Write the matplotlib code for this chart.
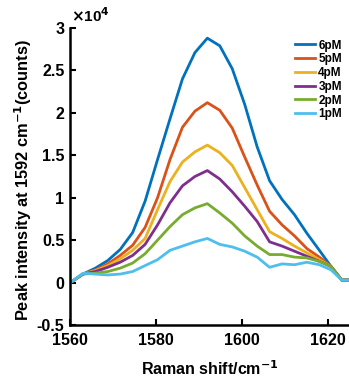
import matplotlib
matplotlib.use("Agg")
import matplotlib.pyplot as plt

plt.rcParams['font.family'] = ['Liberation Sans', 'DejaVu Sans']
plt.rcParams['font.weight'] = 'bold'
plt.rcParams['mathtext.default'] = 'bf'

raman_shift = [1560.1, 1563.0, 1565.9, 1568.8, 1571.7, 1574.6, 1577.5, 1580.4,
               1583.3, 1586.2, 1589.1, 1592.0, 1594.9, 1597.8, 1600.7, 1603.6,
               1606.5, 1609.4, 1612.3, 1615.2, 1618.1, 1620.8, 1623.3, 1624.8]

labels = ['6pM', '5pM', '4pM', '3pM', '2pM', '1pM']

# peak intensity in counts
i_6pM = [0, 1000, 1700, 2600, 3900, 5900, 9600, 14500, 19300, 24000, 27100, 28800,
         27900, 25200, 21000, 16000, 12000, 9800, 8000, 5800, 3800, 1900, 300, 300]
i_5pM = [0, 1000, 1500, 2200, 3200, 4400, 6500, 10000, 14500, 18300, 20200, 21200,
         20300, 18200, 14800, 11500, 8400, 6800, 5500, 4000, 3000, 1900, 300, 300]
i_4pM = [0, 1000, 1400, 2000, 2800, 3800, 5200, 8600, 11900, 14200, 15400, 16200,
         15300, 13800, 11200, 8600, 6000, 5200, 4300, 3500, 2700, 1900, 300, 300]
i_3pM = [0, 1000, 1300, 1800, 2400, 3200, 4500, 6800, 9400, 11400, 12500, 13200,
         12200, 10700, 9000, 7200, 4800, 4300, 3700, 3100, 2500, 1900, 300, 300]
i_2pM = [0, 1000, 1100, 1300, 1700, 2300, 3400, 5000, 6600, 8000, 8800, 9300,
         8200, 7000, 5500, 4300, 3300, 3300, 3000, 2900, 2500, 1900, 300, 300]
i_1pM = [0, 1100, 1000, 900, 1000, 1300, 2000, 2700, 3800, 4300, 4800, 5200,
         4500, 4200, 3700, 3000, 1800, 2200, 2100, 2400, 2100, 1500, 300, 300]

series = [i_6pM, i_5pM, i_4pM, i_3pM, i_2pM, i_1pM]
colors = ['#0072BD', '#D95319', '#EDB120', '#7E2F8E', '#77AC30', '#4DBEEE']

fig = plt.figure(figsize=(3.49, 3.81), dpi=100)
ax = fig.add_axes([70/349, 1-325/381, 279/349, (325-28)/381])

for lab, vals, c in zip(labels, series, colors):
    ax.plot(raman_shift, [v / 1e4 for v in vals], color=c, lw=2.0, label=lab)

ax.set_xlim(1560, 1625)
ax.set_ylim(-0.5, 3)
ax.set_xticks([1560, 1580, 1600, 1620])
ax.set_yticks([-0.5, 0, 0.5, 1, 1.5, 2, 2.5, 3])
ax.set_yticklabels(['-0.5', '0', '0.5', '1', '1.5', '2', '2.5', '3'])
ax.tick_params(direction='in', length=4, width=1.5, labelsize=11.5)
ax.tick_params(axis='x', pad=6)
ax.tick_params(axis='y', pad=4)
for s in ['top', 'right']:
    ax.spines[s].set_visible(False)
for s in ['left', 'bottom']:
    ax.spines[s].set_linewidth(1.8)

ax.set_xlabel('Raman shift/cm$^{-1}$', fontsize=11.5, fontweight='bold', labelpad=8)
ax.set_ylabel('Peak intensity at 1592 cm$^{-1}$(counts)', fontsize=11.8,
              fontweight='bold')
ax.yaxis.set_label_coords(-0.13, 0.49)
ax.text(0.005, 1.01, r'$\times$10$^{4}$', transform=ax.transAxes, fontsize=11,
        ha='left', va='bottom')

leg = ax.legend(loc='upper right', bbox_to_anchor=(1.0, 0.985), frameon=False,
                fontsize=8.5, handlelength=1.7, labelspacing=0.15,
                handletextpad=0.3, borderaxespad=0.2)
for t in leg.get_texts():
    t.set_fontweight('bold')

fig.savefig('out.png', dpi=100)
